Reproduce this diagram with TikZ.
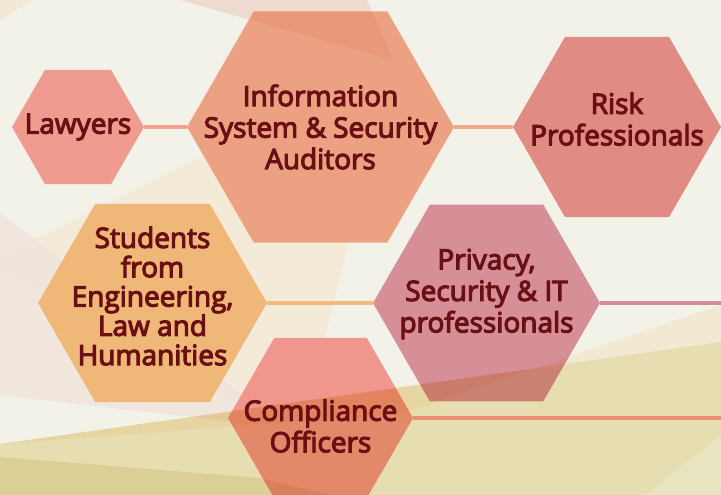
\documentclass[tikz,border=0pt]{standalone}
\usepackage{fontspec}
\setmainfont{Open Sans}
\newfontfamily\hexfont{Open Sans}[FakeBold=4]
\usetikzlibrary{shapes.geometric}
\definecolor{cream}{RGB}{243,242,232}
\definecolor{txtc}{RGB}{106,15,19}
\definecolor{cLaw}{RGB}{240,155,143}
\definecolor{cInfo}{RGB}{236,162,130}
\definecolor{cRisk}{RGB}{224,140,132}
\definecolor{cStud}{RGB}{239,184,120}
\definecolor{cPriv}{RGB}{214,142,151}
\definecolor{cComp}{RGB}{240,150,140}
\definecolor{lLaw}{RGB}{242,160,148}
\definecolor{lInfo}{RGB}{240,170,140}
\definecolor{lStud}{RGB}{240,188,126}
\definecolor{lPriv}{RGB}{212,141,152}
\definecolor{lComp}{RGB}{236,140,116}
\definecolor{pPeach}{RGB}{243,228,204}
\definecolor{pPink}{RGB}{241,228,220}
\definecolor{mOlive}{RGB}{242,234,194}
\definecolor{mOlive2}{RGB}{244,238,218}
\definecolor{mPink}{RGB}{252,242,238}
\definecolor{mPeach}{RGB}{255,246,232}
\tikzset{
  hexa/.style={regular polygon, regular polygon sides=6, inner sep=0pt, outer sep=0pt, draw=none},
  label text/.style={text=txtc, align=center, inner sep=0pt, font=\hexfont\fontsize{28}{31.5}\selectfont},
  link/.style={line width=4pt},
}
\begin{document}
\begin{tikzpicture}[x=1pt,y=-1pt]
\useasboundingbox (0,0) rectangle (721,495);
\fill[cream] (0,0) rectangle (721,495);
% pale background shapes
\begin{scope}
\clip (0,0) rectangle (721,495);
\fill[pPeach,opacity=.7] (0,0) -- (32,0) -- (0,20) -- cycle;
\fill[pPink,opacity=.8] (180,0) -- (367,0) -- (393,60) -- cycle;
\fill[pPeach,opacity=.55] (393,60) -- (-10,262) -- (300,440) -- cycle;
\fill[pPink,opacity=.8] (0,213) -- (250,400) -- (260,425) -- (0,395) -- cycle;
\end{scope}
% hexagons
\node[hexa, fill=cLaw,  minimum size=132pt] (law)  at (78,127) {};
\node[hexa, fill=cInfo, minimum size=267pt] (info) at (320.5,127) {};
\node[hexa, fill=cRisk, minimum size=208pt] (risk) at (617,127) {};
\node[hexa, fill=cStud, minimum size=229pt] (stud) at (152.5,303) {};
\node[hexa, fill=cPriv, minimum size=227pt] (priv) at (486.5,303) {};
\node[hexa, fill=cComp, minimum size=185pt] (comp) at (320.5,418) {};
% tinted overlays
\begin{scope}[blend mode=multiply]
\clip (0,0) rectangle (721,495);
\fill[mPink] (180,0) -- (367,0) -- (393,60) -- cycle;
\fill[mPeach] (721,305) -- (400,414) -- (0,444) -- (721,342) -- cycle;
\fill[mOlive] (0,444) -- (721,342) -- (721,495) -- (0,495) -- cycle;
\fill[mOlive2] (0,457) -- (260,478) -- (330,495) -- (0,495) -- cycle;
\end{scope}
\fill[cream,opacity=.3] (645,495) -- (721,435) -- (721,495) -- cycle;
% connectors
\coordinate (privR) at (721,303);
\coordinate (compR) at (721,418);
\draw[link, lLaw]  (law.east)  -- (info.west);
\draw[link, lInfo] (info.east) -- (risk.west);
\draw[link, lStud] (stud.east) -- (priv.west);
\draw[link, lPriv] (priv.east) -- (privR);
\draw[link, lComp] (comp.east) -- (compR);
% texts
\node[label text] (lawT)  at (78,127)  {Lawyers};
\node[label text] (infoT) at (320.5,127) {Information\\System \& Security\\Auditors};
\node[label text] (riskT) at (617,119) {Risk\\Professionals};
\node[label text, font=\hexfont\fontsize{28}{29.3}\selectfont] (studT) at (152.5,296) {Students\\from\\Engineering,\\Law and\\Humanities};
\node[label text] (privT) at (486.5,294) {Privacy,\\Security \& IT\\professionals};
\node[label text] (compT) at (320.5,426) {Compliance\\Officers};
\end{tikzpicture}
\end{document}
